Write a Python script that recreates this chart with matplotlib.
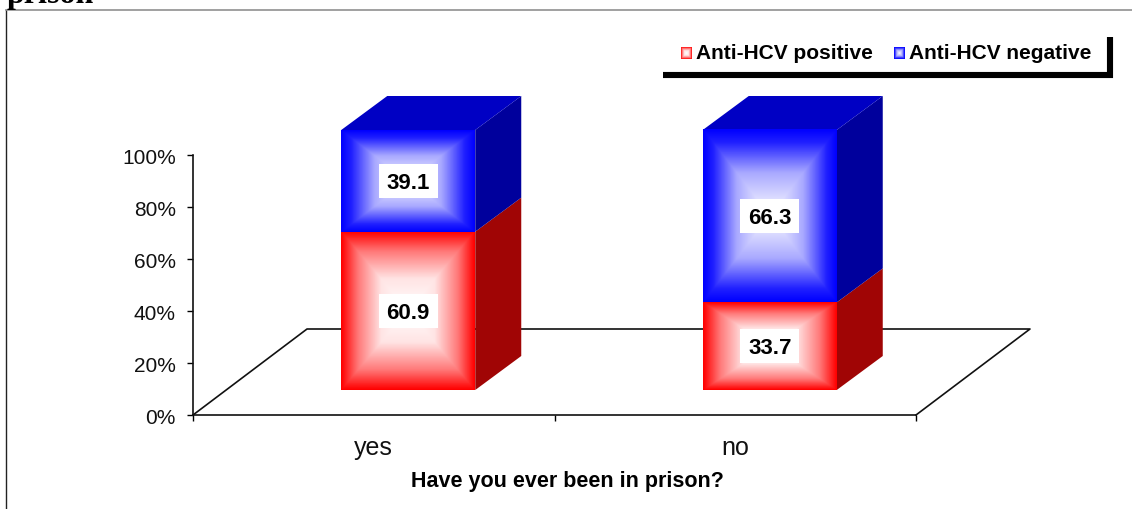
import numpy as np
import matplotlib
matplotlib.use('Agg')
import matplotlib.pyplot as plt
from matplotlib.colors import LinearSegmentedColormap
from matplotlib.patches import Polygon, Rectangle
from matplotlib.transforms import ScaledTranslation

plt.rcParams['font.family'] = ['Liberation Sans', 'DejaVu Sans']

# Data
categories = ['yes', 'no']
positive = [60.9, 33.7]
negative = [39.1, 66.3]
yticks = [0, 20, 40, 60, 80, 100]
legend_names = ['Anti-HCV positive', 'Anti-HCV negative']

W, H = 1132, 509
# Axes box in pixels
x0, x1 = 193, 916
ytop, ybot = 155, 415
ux = (x1 - x0)/2  # px per category
uy = (ybot - ytop)/100  # px per percent

# 3D look, in data units
bar_w = 134/ux
floor_dx, floor_dy = 114/ux, 86/uy
shift_x, shift_y = 34.5/ux, 25/uy
depth_x, depth_y = 46/ux, 34/uy
box_w, box_h = 59/ux, 34/uy

red = LinearSegmentedColormap.from_list(
    'r', [(0, '#ffffff'), (0.4, '#ffe4e4'), (0.75, '#ff7878'), (1, '#ff0000')])
blue = LinearSegmentedColormap.from_list(
    'b', [(0, '#ffffff'), (0.5, '#a8a8ff'), (0.85, '#2020ff'), (1, '#0000ff')])
red_side, blue_side, blue_top = '#a00505', '#00009c', '#0000c4'

# Pyramid shaped fill used on the bar faces
u, v = np.meshgrid(np.linspace(-1, 1, 201), np.linspace(-1, 1, 201))
pyramid = np.maximum(np.abs(u), np.abs(v))

fig = plt.figure(figsize=(W/100, H/100), dpi=100)
ax = fig.add_axes([x0/W, 1 - ybot/H, (x1 - x0)/W, (ybot - ytop)/H])

# Floor
ax.plot([0, floor_dx, 2 + floor_dx, 2], [0, floor_dy, floor_dy, 0],
        color='#111111', lw=1.2, clip_on=False, zorder=1)


def draw_face(x, bottom, height, cmap):
    bar = ax.bar(x, height, bar_w, bottom=bottom, color='none', zorder=3, clip_on=False)[0]
    ax.imshow(pyramid, cmap=cmap, aspect='auto', zorder=3, clip_on=False,
              extent=[x - bar_w/2, x + bar_w/2, bottom, bottom + height], vmin=0, vmax=1)
    return bar


for i, name in enumerate(categories):
    xc = i + 0.5 + shift_x
    xl, xr = xc - bar_w/2, xc + bar_w/2
    p, n = positive[i], negative[i]
    # side faces
    ax.add_patch(Polygon([(xr, shift_y), (xr + depth_x, shift_y + depth_y),
                          (xr + depth_x, shift_y + depth_y + p), (xr, shift_y + p)],
                         fc=red_side, ec='none', zorder=2, clip_on=False))
    ax.add_patch(Polygon([(xr, shift_y + p), (xr + depth_x, shift_y + depth_y + p),
                          (xr + depth_x, shift_y + depth_y + p + n), (xr, shift_y + p + n)],
                         fc=blue_side, ec='none', zorder=2, clip_on=False))
    # top face
    top = shift_y + p + n
    ax.add_patch(Polygon([(xl, top), (xl + depth_x, top + depth_y),
                          (xr + depth_x, top + depth_y), (xr, top)],
                         fc=blue_top, ec='none', zorder=2, clip_on=False))
    # front faces
    draw_face(xc, shift_y, p, red)
    draw_face(xc, shift_y + p, n, blue)
    # value boxes
    for val, mid in [(p, shift_y + p/2), (n, shift_y + p + n/2)]:
        ax.add_patch(Rectangle((xc - box_w/2, mid - box_h/2), box_w, box_h, fc='white',
                               ec='none', zorder=4, clip_on=False))
        ax.text(xc, mid, f'{val:.1f}', ha='center', va='center_baseline', fontsize=16,
                fontweight='bold', color='black', zorder=5)

ax.set_xlim(0, 2)
ax.set_ylim(0, 100)
ax.patch.set_visible(False)
ax.spines['top'].set_visible(False)
ax.spines['right'].set_visible(False)
for s in ['left', 'bottom']:
    ax.spines[s].set_linewidth(1.2)
    ax.spines[s].set_color('#111111')
ax.set_yticks(yticks)
ax.set_yticklabels([f'{t}%' for t in yticks], fontsize=15, color='#111111')
ax.tick_params(axis='y', length=4.5, width=1, pad=8)
nudge = ScaledTranslation(0, -1.5/100, fig.dpi_scale_trans)
for lab in ax.get_yticklabels():
    lab.set_transform(lab.get_transform() + nudge)
ax.set_xticks([0, 1, 2])
ax.set_xticklabels([])
ax.tick_params(axis='x', which='major', length=4.5, width=1)
ax.set_xticks([0.5, 1.5], minor=True)
ax.set_xticklabels(categories, minor=True, fontsize=18, color='#111111')
ax.tick_params(axis='x', which='minor', length=0, pad=15)

# Overlay in pixels: frame, cut off title, legend, axis title
ov = fig.add_axes([0, 0, 1, 1], zorder=6)
ov.set_xlim(0, W)
ov.set_ylim(H, 0)
ov.axis('off')
ov.plot([6, 6], [10, H], color='#222222', lw=1)
ov.plot([6, W], [10, 10], color='#909090', lw=1.2)
ov.text(7, 3, 'prison', family='Liberation Serif', fontsize=23, fontweight='bold',
        va='baseline', ha='left', color='black')
ov.plot([663, 1110, 1110], [75, 75, 37], color='black', lw=4.4, solid_joinstyle='miter',
        solid_capstyle='butt')
ov.imshow(pyramid, cmap=red, aspect='auto', extent=[681, 692, 59, 47], vmin=0, vmax=1)
ov.imshow(pyramid, cmap=blue, aspect='auto', extent=[894, 905, 59, 47], vmin=0, vmax=1)
ov.set_xlim(0, W)
ov.set_ylim(H, 0)
ov.text(696, 53, legend_names[0], fontsize=15, fontweight='bold', va='center', ha='left')
ov.text(909, 53, legend_names[1], fontsize=15, fontweight='bold', va='center', ha='left')
ov.text(567, 482, 'Have you ever been in prison?', fontsize=15.5, fontweight='bold',
        va='center', ha='center')

fig.savefig('out.png', dpi=100)
